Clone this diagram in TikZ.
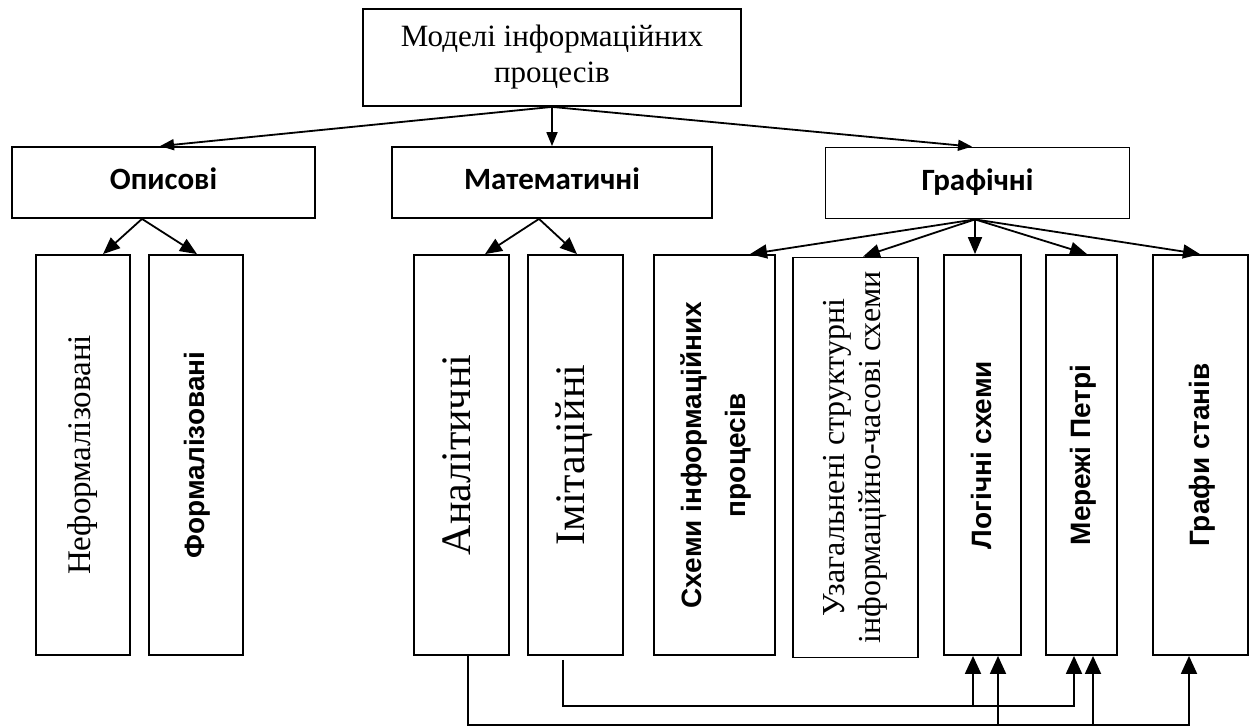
\documentclass[tikz,border=0pt]{standalone}
\usepackage{fontspec}
\usepackage{graphicx}
\setmainfont{Liberation Serif}
\setsansfont{Liberation Sans}
\newfontfamily\calibri{Carlito}
\usetikzlibrary{arrows.meta, calc}

\newcommand{\vlabel}[1]{\rotatebox{90}{\begin{tabular}{@{}c@{}}#1\end{tabular}}}

\begin{document}
\begin{tikzpicture}[x=1pt, y=-1pt,
    box/.style={rectangle, draw, line width=1.8pt, align=center, inner sep=0pt},
    rootbox/.style={box, minimum width=378pt, minimum height=97pt, font=\fontsize{31}{36}\selectfont},
    kindbox/.style={box, minimum height=71pt, text height=21pt, text depth=6pt, font=\calibri\bfseries\fontsize{31}{36}\selectfont},
    leaf/.style={box, minimum height=400pt},
    serifleaf/.style={leaf, font=\fontsize{33}{37}\selectfont},
    sansleaf/.style={leaf, font=\sffamily\bfseries\fontsize{28}{44}\selectfont},
    arrow/.style={-{Triangle[length=14pt, width=11pt]}, line width=1.8pt},
    bigarrow/.style={-{Triangle[length=17pt, width=14pt]}, line width=1.8pt},
    busarrow/.style={-{Triangle[length=18pt, width=16pt]}, line width=1.8pt}
  ]
  \useasboundingbox (0,0) rectangle (1253,727);

  % Root
  \node[rootbox] (root) at (552,57.5) {Моделі інформаційних\\процесів};

  % Kinds of models
  \node[kindbox, minimum width=303pt] (opys) at (163.5,182.5) {Описові};
  \node[kindbox, minimum width=320pt] (mat) at (552,182.5) {Математичні};
  \node[kindbox, minimum width=304pt] (graf) at (977.5,183) {Графічні};

  % Leaves
  \node[serifleaf, minimum width=94pt] (neform) at (83,455) {\vlabel{Неформалізовані}};
  \node[sansleaf, minimum width=94pt] (form) at (196,455) {\vlabel{Формалізовані}};
  \node[serifleaf, minimum width=95pt, font=\fontsize{42}{46}\selectfont] (anal) at (461.5,455) {\vlabel{Аналітичні}};
  \node[serifleaf, minimum width=95pt, font=\fontsize{42}{46}\selectfont] (imit) at (575.5,455) {\vlabel{Імітаційні}};
  \node[sansleaf, minimum width=121pt] (schemes) at (714.5,455) {\vlabel{Схеми інформаційних\\процесів}};
  \node[serifleaf, minimum width=125pt, font=\fontsize{32}{36}\selectfont] (general) at (855.5,457.5) {\vlabel{Узагальнені структурні\\інформаційно-часові схеми}};
  \node[sansleaf, minimum width=77pt] (logic) at (982.5,455) {\vlabel{Логічні схеми}};
  \node[sansleaf, minimum width=71pt] (petri) at (1081.5,455) {\vlabel{Мережі Петрі}};
  \node[sansleaf, minimum width=95pt] (states) at (1200.5,455) {\vlabel{Графи станів}};

  % Root to kinds
  \draw[arrow] (root.south) -- ([xshift=-3.5pt]opys.north);
  \draw[arrow] (root.south) -- (mat.north);
  \draw[arrow] (root.south) -- ([xshift=-5.5pt]graf.north);

  % Kinds to leaves
  \draw[bigarrow] ([xshift=-21.5pt]opys.south) -- ([xshift=20pt]neform.north);
  \draw[bigarrow] ([xshift=-21.5pt]opys.south) -- ([xshift=1pt]form.north);
  \draw[bigarrow] ([xshift=-13pt]mat.south) -- ([xshift=23.5pt]anal.north);
  \draw[bigarrow] ([xshift=-13pt]mat.south) -- ([xshift=1.5pt]imit.north);
  \foreach \leaf/\dx in {schemes/35.5, general/7.5, logic/-7.5, petri/5.5, states/-0.5}
    \draw[bigarrow] ([xshift=-2.5pt]graf.south) -- ([xshift=\dx pt]\leaf.north);

  % Bus lines under the leaves
  \coordinate (lowbus) at (0,725);
  \coordinate (midbus) at (0,706);
  \coordinate (logA) at ([xshift=-9.5pt]logic.south);
  \coordinate (logB) at ([xshift=15.5pt]logic.south);
  \coordinate (petA) at ([xshift=-7.5pt]petri.south);
  \coordinate (petB) at ([xshift=11.5pt]petri.south);
  \coordinate (stIn) at ([xshift=-11.5pt]states.south);

  \draw[busarrow] ([xshift=6.5pt]anal.south) |- (lowbus -| stIn) -- (stIn);
  \draw[busarrow] (lowbus -| logB) -- (logB);
  \draw[busarrow] (lowbus -| petB) -- (petB);
  \draw[busarrow] ([xshift=-12.5pt, yshift=-4pt]imit.south) |- (midbus -| petA) -- (petA);
  \draw[busarrow] (midbus -| logA) -- (logA);
\end{tikzpicture}
\end{document}
